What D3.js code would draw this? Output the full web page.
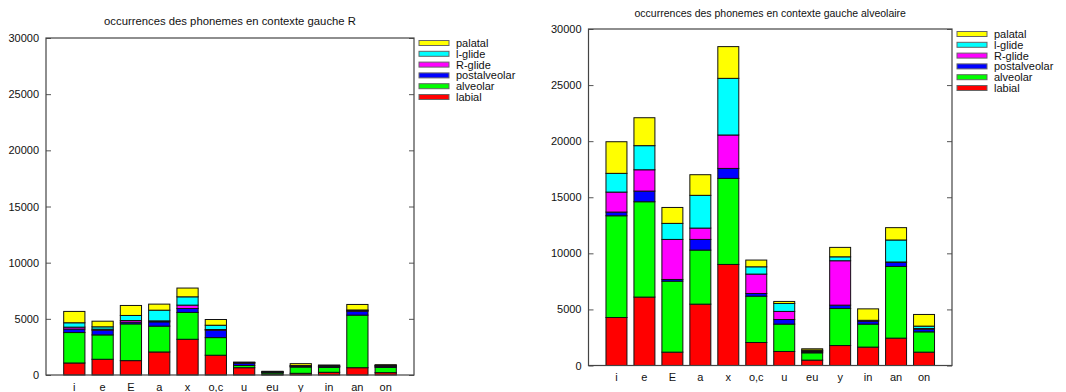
<!DOCTYPE html>
<html>
<head>
<meta charset="utf-8">
<script src="https://cdn.jsdelivr.net/npm/d3@7"></script>
<style>
  body { margin: 0; background: #fff; }
  svg { display: block; font-family: "Liberation Sans", Arial, Helvetica, sans-serif; }
</style>
</head>
<body>
<div id="chart"></div>
<script>
// phonemes on the x axis
const phonemes = ["i", "e", "E", "a", "x", "o,c", "u", "eu", "y", "in", "an", "on"];
// stack order bottom -> top
const places = ["labial", "alveolar", "postalveolar", "R-glide", "l-glide", "palatal"];
const placeColors = ["#ff0000", "#00ff00", "#0000ff", "#ff00ff", "#00ffff", "#ffff00"];
const yTicks = [0, 5000, 10000, 15000, 20000, 25000, 30000];

// left context R
const rLabial       = [1070, 1400, 1280, 2050, 3180, 1760, 650, 30, 150, 240, 650, 210];
const rAlveolar     = [2710, 2170, 3270, 2300, 2390, 1570, 200, 150, 560, 440, 4680, 470];
const rPostalveolar = [310, 420, 150, 380, 350, 660, 200, 60, 60, 80, 350, 100];
const rRglide       = [170, 90, 150, 90, 300, 60, 30, 20, 30, 20, 50, 30];
const rLglide       = [390, 210, 450, 950, 740, 380, 30, 30, 40, 30, 60, 30];
const rPalatal      = [1010, 500, 890, 540, 780, 510, 40, 40, 170, 80, 490, 80];

// left context alveolaire
const aLabial       = [4280, 6100, 1190, 5470, 9010, 2050, 1250, 480, 1780, 1640, 2440, 1190];
const aAlveolar     = [9070, 8500, 6330, 4820, 7670, 4130, 2440, 650, 3300, 2050, 6390, 1810];
const aPostalveolar = [330, 950, 150, 950, 890, 240, 410, 90, 300, 260, 360, 240];
const aRglide       = [1780, 1900, 3570, 1010, 2980, 1730, 720, 90, 3960, 40, 40, 60];
const aLglide       = [1670, 2150, 1430, 2920, 5050, 650, 710, 60, 350, 40, 1960, 210];
const aPalatal      = [2820, 2490, 1420, 1840, 2830, 600, 180, 120, 840, 1020, 1100, 1040];

const svg = d3.select("#chart").append("svg")
  .attr("width", 1066).attr("height", 392);

function drawChart(cfg, series) {
  const g = svg.append("g");
  const x = d3.scaleBand().domain(phonemes)
    .range([cfg.left, cfg.right]).paddingInner(0.25).paddingOuter(0.625);
  const y = d3.scaleLinear().domain([0, 30000]).range([cfg.bottom, cfg.top]);

  const rows = phonemes.map((p, i) => {
    const r = { phoneme: p };
    places.forEach((pl, k) => { r[pl] = series[k][i]; });
    return r;
  });
  const stacked = d3.stack().keys(places)(rows);

  // y axis ticks (inward, both sides)
  g.append("g").attr("transform", `translate(${cfg.left},0)`)
    .call(d3.axisRight(y).tickValues(yTicks).tickSize(5).tickFormat(""))
    .call(a => a.select(".domain").remove())
    .selectAll("line").attr("stroke", "#555");
  g.append("g").attr("transform", `translate(${cfg.right},0)`)
    .call(d3.axisLeft(y).tickValues(yTicks).tickSize(5).tickFormat(""))
    .call(a => a.select(".domain").remove())
    .selectAll("line").attr("stroke", "#555");

  // tick labels
  g.append("g").selectAll("text").data(yTicks).join("text")
    .attr("x", cfg.left - 7).attr("y", d => y(d) + 4)
    .attr("text-anchor", "end").attr("font-size", 11).attr("fill", "#111")
    .text(d => d);

  // bars
  g.append("g").selectAll("g").data(stacked).join("g")
    .attr("fill", (d, k) => placeColors[k])
    .selectAll("rect").data(d => d).join("rect")
    .attr("x", d => x(d.data.phoneme))
    .attr("y", d => y(d[1]))
    .attr("width", x.bandwidth())
    .attr("height", d => Math.max(0, y(d[0]) - y(d[1])))
    .attr("stroke", "#111").attr("stroke-width", 1);

  // frame
  g.append("rect")
    .attr("x", cfg.left).attr("y", cfg.top)
    .attr("width", cfg.right - cfg.left).attr("height", cfg.bottom - cfg.top)
    .attr("fill", "none").attr("stroke", "#444").attr("stroke-width", 1.2);

  // x labels
  g.append("g").selectAll("text").data(phonemes).join("text")
    .attr("x", d => x(d) + x.bandwidth() / 2).attr("y", cfg.xLabelY)
    .attr("text-anchor", "middle").attr("font-size", 11).attr("fill", "#111")
    .text(d => d);

  // title
  g.append("text")
    .attr("x", (cfg.left + cfg.right) / 2).attr("y", cfg.titleY)
    .attr("text-anchor", "middle").attr("font-size", cfg.titleSize).attr("fill", "#111")
    .text(cfg.title);

  // legend, top item = last stack layer
  const legendItems = places.map((p, k) => ({ name: p, color: placeColors[k] })).reverse();
  const lg = g.append("g").selectAll("g").data(legendItems).join("g")
    .attr("transform", (d, i) => `translate(${cfg.legendX},${cfg.legendY + i * 10.8})`);
  lg.append("rect")
    .attr("x", 0).attr("y", -2.5).attr("width", 30).attr("height", 5)
    .attr("fill", d => d.color).attr("stroke", "#666").attr("stroke-width", 1);
  lg.append("text")
    .attr("x", 37).attr("y", 4)
    .attr("font-size", 11).attr("fill", "#111")
    .text(d => d.name);
}

drawChart({
  left: 46, right: 414, top: 38, bottom: 375,
  title: "occurrences des phonemes en contexte gauche R",
  titleY: 25, titleSize: 11.3, xLabelY: 391, legendX: 419, legendY: 43
}, [rLabial, rAlveolar, rPostalveolar, rRglide, rLglide, rPalatal]);

drawChart({
  left: 588.5, right: 952, top: 29, bottom: 365.5,
  title: "occurrences des phonemes en contexte gauche alveolaire",
  titleY: 17, titleSize: 10.5, xLabelY: 381, legendX: 957, legendY: 34
}, [aLabial, aAlveolar, aPostalveolar, aRglide, aLglide, aPalatal]);
</script>
</body>
</html>
